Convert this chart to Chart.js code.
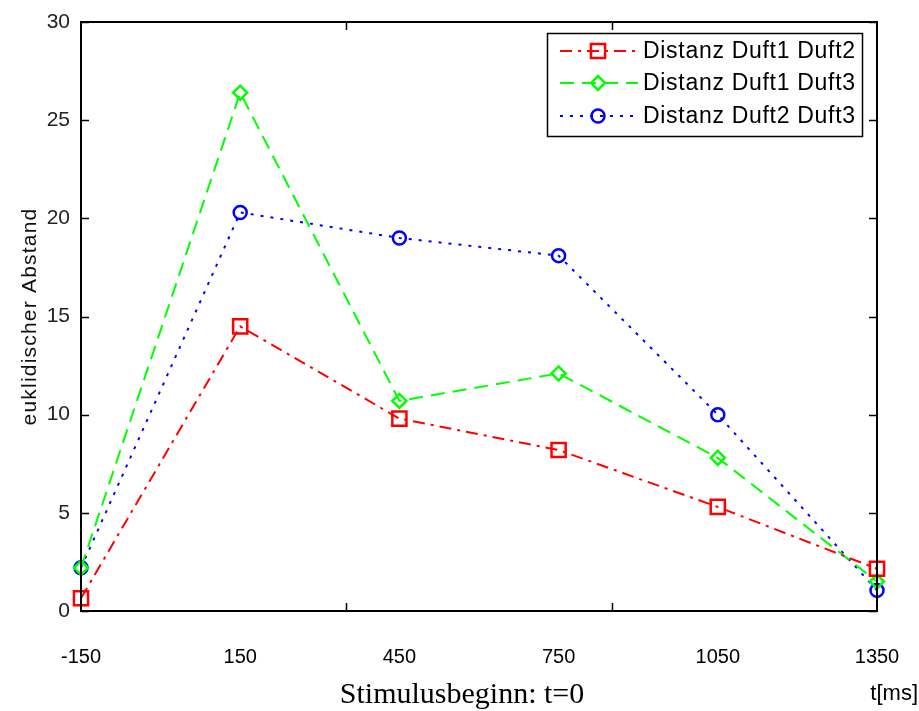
<!DOCTYPE html>
<html><head><meta charset="utf-8">
<script src="https://cdn.jsdelivr.net/npm/chart.js@4/dist/chart.umd.min.js"></script>
<style>html,body{margin:0;padding:0;background:#fff}#wrap{width:919px;height:711px}</style>
</head><body><div id="wrap"><canvas id="c" width="919" height="711"></canvas></div>
<script>
// ---- data ----
const times = [-150, 150, 450, 750, 1050, 1350];
const duft1Duft2 = [0.65, 14.5, 9.8, 8.2, 5.3, 2.15];
const duft1Duft3 = [2.2, 26.4, 10.7, 12.1, 7.8, 1.5];
const duft2Duft3 = [2.2, 20.3, 19.0, 18.1, 10.0, 1.05];
const seriesNames = ['Distanz Duft1 Duft2', 'Distanz Duft1 Duft3', 'Distanz Duft2 Duft3'];
const yTickValues = [0, 5, 10, 15, 20, 25, 30];
const xTickMarks = [350, 850];
const yLabel = 'euklidischer Abstand';
const xLabel = 'Stimulusbeginn: t=0';
const xUnit = 't[ms]';

const pts = arr => times.map((t, i) => ({x: t, y: arr[i]}));

const styles = [
  {color: '#ff0000', dash: [12, 6, 3, 6], pointStyle: 'rect', r: 10, lw: 2},
  {color: '#00ff00', dash: [14, 8], pointStyle: 'rectRot', r: 7, lw: 2},
  {color: '#0000ff', dash: [3, 7], pointStyle: 'circle', r: 6.5, lw: 2}
];
const seriesData = [duft1Duft2, duft1Duft3, duft2Duft3];

function drawMarker(ctx, style, x, y) {
  ctx.save();
  ctx.setLineDash([]);
  ctx.strokeStyle = style.color;
  ctx.lineWidth = 2.5;
  ctx.beginPath();
  if (style.pointStyle === 'rect') {
    const s = style.r * Math.SQRT1_2;
    ctx.rect(x - s, y - s, 2 * s, 2 * s);
  } else if (style.pointStyle === 'rectRot') {
    ctx.moveTo(x, y - style.r); ctx.lineTo(x + style.r, y);
    ctx.lineTo(x, y + style.r); ctx.lineTo(x - style.r, y); ctx.closePath();
  } else {
    ctx.arc(x, y, style.r, 0, Math.PI * 2);
  }
  ctx.stroke();
  ctx.restore();
}

const framePlugin = {
  id: 'frame',
  afterDatasetsDraw(chart) {
    const ctx = chart.ctx, a = chart.chartArea;
    const xs = chart.scales.x, ys = chart.scales.y;
    ctx.save();
    ctx.strokeStyle = '#000';
    ctx.lineWidth = 2;
    ctx.setLineDash([]);
    ctx.strokeRect(a.left, a.top, a.right - a.left, a.bottom - a.top);
    ctx.lineWidth = 1.5;
    ctx.beginPath();
    xTickMarks.forEach(v => {
      const px = Math.round(xs.getPixelForValue(v)) + 0.5;
      ctx.moveTo(px, a.bottom); ctx.lineTo(px, a.bottom - 8);
      ctx.moveTo(px, a.top); ctx.lineTo(px, a.top + 8);
    });
    yTickValues.forEach(v => {
      const py = Math.round(ys.getPixelForValue(v)) + 0.5;
      ctx.moveTo(a.left, py); ctx.lineTo(a.left + 8, py);
      ctx.moveTo(a.right, py); ctx.lineTo(a.right - 8, py);
    });
    ctx.stroke();

    // legend
    const lx = 547, ly = 33, lw = 315, lh = 103;
    ctx.fillStyle = '#fff';
    ctx.fillRect(lx, ly, lw, lh);
    ctx.strokeStyle = '#000';
    ctx.lineWidth = 1.5;
    ctx.strokeRect(lx + 0.5, ly + 0.5, lw, lh);
    const rowsY = [51, 83, 116];
    chart.data.datasets.forEach((ds, i) => {
      const st = styles[i];
      const y = rowsY[i];
      ctx.save();
      ctx.strokeStyle = st.color;
      ctx.lineWidth = st.lw;
      ctx.setLineDash(st.dash);
      ctx.beginPath();
      ctx.moveTo(560, y); ctx.lineTo(638, y);
      ctx.stroke();
      ctx.restore();
      drawMarker(ctx, st, 598, y);
      ctx.save();
      ctx.fillStyle = '#000';
      ctx.font = '23px "Liberation Sans", Arial, sans-serif';
      ctx.letterSpacing = '0.7px';
      ctx.textAlign = 'left';
      ctx.textBaseline = 'middle';
      ctx.fillText(ds.label, 643, y + 1);
      ctx.restore();
    });

    // axis titles
    ctx.save();
    ctx.translate(30, (a.top + a.bottom) / 2);
    ctx.rotate(-Math.PI / 2);
    ctx.font = '21px "Liberation Sans", Arial, sans-serif';
    ctx.letterSpacing = '1.2px';
    ctx.textAlign = 'center';
    ctx.textBaseline = 'middle';
    ctx.fillStyle = '#111';
    ctx.fillText(yLabel, 0, 0);
    ctx.restore();

    ctx.fillStyle = '#000';
    ctx.font = '30px "Liberation Serif", "Times New Roman", serif';
    ctx.textAlign = 'center';
    ctx.textBaseline = 'alphabetic';
    ctx.fillText(xLabel, 462, 703);
    ctx.font = '22px "Liberation Sans", Arial, sans-serif';
    ctx.textAlign = 'right';
    ctx.fillText(xUnit, 918, 700);
    ctx.restore();
  }
};

new Chart(document.getElementById('c'), {
  type: 'line',
  data: {
    datasets: seriesData.map((arr, i) => ({
      label: seriesNames[i],
      data: pts(arr),
      borderColor: styles[i].color,
      backgroundColor: 'transparent',
      borderWidth: styles[i].lw,
      borderDash: styles[i].dash,
      pointStyle: styles[i].pointStyle,
      pointRadius: styles[i].r,
      pointHoverRadius: styles[i].r,
      pointBorderWidth: 2.5,
      pointBorderColor: styles[i].color,
      pointBackgroundColor: 'transparent',
      tension: 0,
      fill: false,
      clip: false
    }))
  },
  options: {
    responsive: false,
    animation: false,
    devicePixelRatio: 1,
    layout: {padding: {left: 0, top: 22, right: 42, bottom: 0}},
    plugins: {legend: {display: false}, tooltip: {enabled: false}, title: {display: false}},
    scales: {
      x: {
        type: 'linear', min: -150, max: 1350,
        afterBuildTicks: s => { s.ticks = times.map(v => ({value: v})); },
        afterFit: s => { s.height = 100; s.paddingLeft = 0; s.paddingRight = 0; },
        grid: {display: false, drawTicks: false},
        border: {display: false},
        ticks: {
          padding: 34, maxRotation: 0, autoSkip: false,
          color: '#000',
          font: {family: '"Liberation Sans", Arial, sans-serif', size: 20},
          callback: v => String(v)
        }
      },
      y: {
        type: 'linear', min: 0, max: 30,
        afterBuildTicks: s => { s.ticks = yTickValues.map(v => ({value: v})); },
        afterFit: s => { s.width = 81; s.paddingTop = 0; s.paddingBottom = 0; },
        grid: {display: false, drawTicks: false},
        border: {display: false},
        ticks: {
          padding: 11, color: '#222',
          font: {family: '"Liberation Sans", Arial, sans-serif', size: 21},
          callback: v => String(v)
        }
      }
    }
  },
  plugins: [framePlugin]
});
</script>
</body></html>
